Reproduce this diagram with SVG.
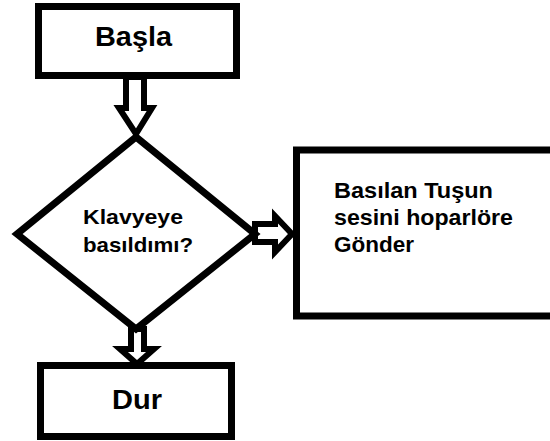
<svg xmlns="http://www.w3.org/2000/svg" width="550" height="441" viewBox="0 0 550 441">
<style>
.box{fill:#fff;stroke:#000;stroke-width:7}
.arr{fill:#fff;stroke:#000;stroke-width:6;stroke-linejoin:miter}
text{font-family:"Liberation Sans",Arial,sans-serif;font-weight:bold;fill:#000}
</style>
<rect width="550" height="441" fill="#fff"/>
<g id="connectors">
<polygon class="arr" points="126,77 126,108 119,108 136,134 152,108 144,108 144,77"/>
<polygon class="arr" points="255,224 275,224 275,216 292,234 275,252 275,242 255,242"/>
<polygon class="arr" points="131,329 131,349 120,349 137,364 154,349 144,349 144,329"/>
</g>
<g id="basla">
<rect class="box" x="38.5" y="6.5" width="198" height="69"/>
<text x="95" y="46" font-size="27" textLength="77" lengthAdjust="spacingAndGlyphs">Başla</text>
</g>
<g id="karar">
<polygon class="box" points="136,137 255,234 136,329 17,234"/>
<text x="83" y="224" font-size="21" textLength="100" lengthAdjust="spacingAndGlyphs">Klavyeye</text>
<text x="83" y="252" font-size="21" textLength="110" lengthAdjust="spacingAndGlyphs">basıldımı?</text>
</g>
<g id="gonder">
<rect class="box" x="296.5" y="150" width="270" height="166"/>
<text x="334" y="198" font-size="22" textLength="159" lengthAdjust="spacingAndGlyphs">Basılan Tuşun</text>
<text x="334" y="225" font-size="22" textLength="179" lengthAdjust="spacingAndGlyphs">sesini hoparlöre</text>
<text x="334" y="252" font-size="22" textLength="80" lengthAdjust="spacingAndGlyphs">Gönder</text>
</g>
<g id="dur">
<rect class="box" x="40.5" y="365.5" width="191" height="71"/>
<text x="112" y="409" font-size="28" textLength="50" lengthAdjust="spacingAndGlyphs">Dur</text>
</g>
</svg>
